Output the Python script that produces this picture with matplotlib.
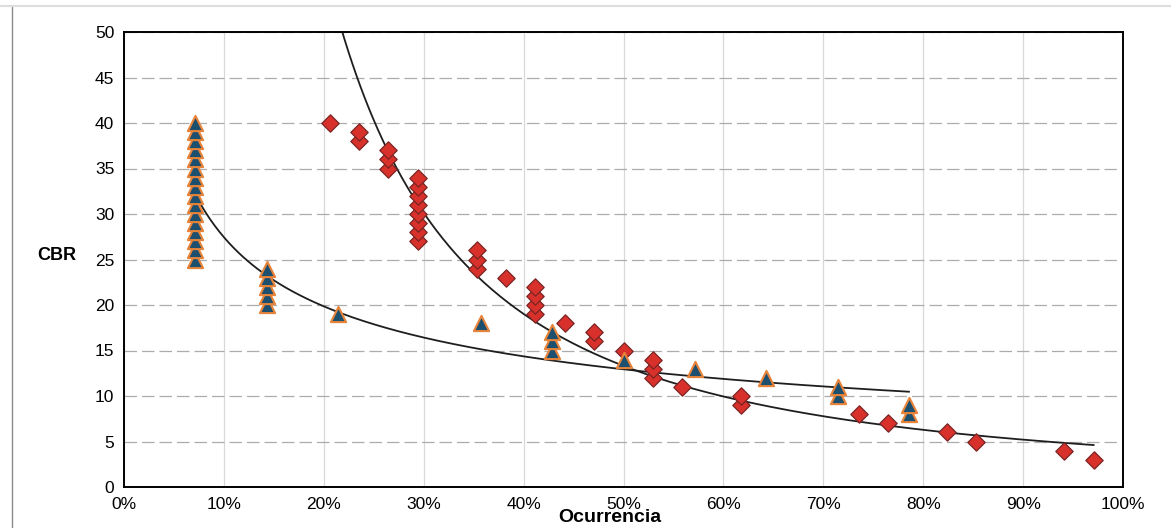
import numpy as np
import matplotlib
matplotlib.use("Agg")
import matplotlib.pyplot as plt
from matplotlib.lines import Line2D
from matplotlib.ticker import FuncFormatter, MultipleLocator

plt.rcParams["font.family"] = ["Liberation Sans", "DejaVu Sans"]

# Series A (triangles): occurrence positions k/14 and CBR values
tri_k = [1] * 16 + [2] * 5 + [3] + [5] + [6] * 3 + [7] + [8] + [9] + [10] * 2 + [11] * 2
tri_cbr = (list(range(25, 41)) + list(range(20, 25)) + [19] + [18] + [15, 16, 17]
           + [14] + [13] + [12] + [10, 11] + [8, 9])
tri_n = 14

# Series B (diamonds): occurrence positions k/34 and CBR values
dia_k = ([7] + [8] * 2 + [9] * 3 + [10] * 8 + [12] * 3 + [13] + [14] * 4 + [15]
         + [16] * 2 + [17] + [18] * 3 + [19] + [21] * 2 + [25] + [26] + [28] + [29]
         + [32] + [33])
dia_cbr = ([40] + [38, 39] + [35, 36, 37] + list(range(27, 35)) + [24, 25, 26] + [23]
           + [19, 20, 21, 22] + [18] + [16, 17] + [15] + [12, 13, 14] + [11] + [9, 10]
           + [8] + [7] + [6] + [5] + [4] + [3])
dia_n = 34

tri_x = np.array(tri_k) / tri_n
dia_x = np.array(dia_k) / dia_n
tri_y = np.array(tri_cbr, dtype=float)
dia_y = np.array(dia_cbr, dtype=float)


def power_trend(x, y):
    b, ln_a = np.polyfit(np.log(x), np.log(y), 1)
    return np.exp(ln_a), b


fig = plt.figure(figsize=(11.71, 5.28), dpi=100)
ax = fig.add_axes([124 / 1171, 1 - 487 / 528, 999 / 1171, 455 / 528])

ax.set_xlim(0, 1)
ax.set_ylim(0, 50)
ax.xaxis.set_major_locator(MultipleLocator(0.1))
ax.yaxis.set_major_locator(MultipleLocator(5))
ax.xaxis.set_major_formatter(FuncFormatter(lambda v, p: f"{v * 100:.0f}%"))
ax.yaxis.grid(True, color="#acacac", linewidth=0.9, linestyle=(0, (10, 4)))
ax.xaxis.grid(True, color="#d8d8d8", linewidth=0.9)
ax.set_axisbelow(True)
ax.tick_params(length=0, labelsize=12.5, pad=7)
for s in ax.spines.values():
    s.set_linewidth(1.4)
    s.set_color("black")

# power trend lines
a_t, b_t = power_trend(tri_x, tri_y)
xs = np.linspace(tri_x.min(), tri_x.max(), 300)
ax.plot(xs, a_t * xs ** b_t, color="#1e1e1e", linewidth=1.3, zorder=2)

a_d, b_d = power_trend(dia_x, dia_y)
xs = np.linspace(dia_x.min() * 0.9, dia_x.max(), 400)
ax.plot(xs, a_d * xs ** b_d, color="#1e1e1e", linewidth=1.3, zorder=2)

ax.scatter(dia_x, dia_y, marker="D", s=78, facecolor="#d8312b",
           edgecolor="#7a2424", linewidth=0.9, zorder=3)
ax.scatter(tri_x, tri_y, marker="^", s=120, facecolor="#1d4f6e",
           edgecolor="#e8843a", linewidth=1.5, zorder=4)

fig.text(57 / 1171, 1 - 256 / 528, "CBR", fontsize=13, fontweight="bold",
         ha="center", va="center")
fig.text(610 / 1171, 1 - 518 / 528, "Ocurrencia", fontsize=14, fontweight="bold",
         ha="center", va="center")

# outer frame of the chart area
fig.add_artist(Line2D([12 / 1171, 12 / 1171], [0, 1 - 6 / 528],
                      transform=fig.transFigure, color="#8a8a8a", linewidth=1))
fig.add_artist(Line2D([0, 1], [1 - 6 / 528, 1 - 6 / 528],
                      transform=fig.transFigure, color="#dddddd", linewidth=1.5))

fig.savefig("out.png", dpi=100)
